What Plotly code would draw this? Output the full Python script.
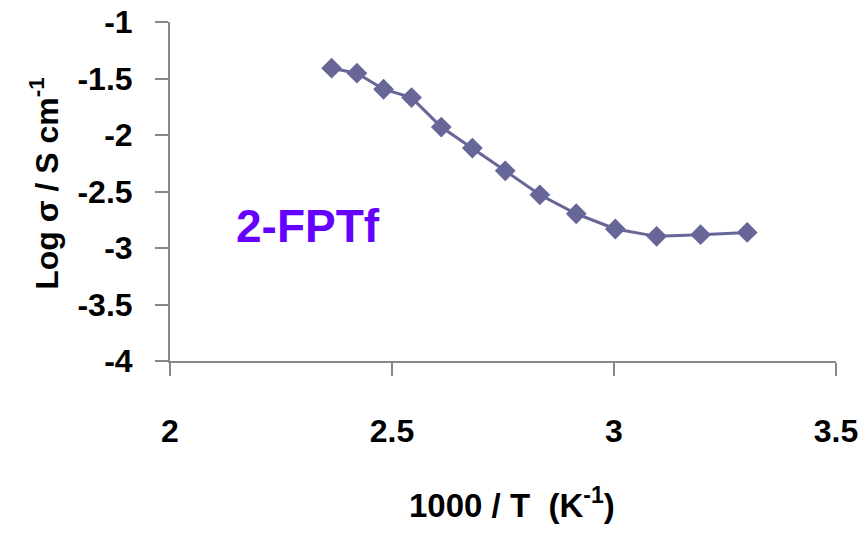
import plotly.graph_objects as go

# 1000/T (K^-1) and log conductivity (S cm^-1) for 2-FPTf
inv_temp = [2.364, 2.421, 2.481, 2.544, 2.611, 2.681, 2.755, 2.833, 2.915, 3.003, 3.096, 3.195, 3.300]
log_sigma = [-1.409, -1.453, -1.595, -1.669, -1.930, -2.116, -2.317, -2.529, -2.697, -2.832, -2.897, -2.882, -2.862]

x_ticks = [2, 2.5, 3, 3.5]
y_ticks = [-1, -1.5, -2, -2.5, -3, -3.5, -4]

label_font = "Liberation Sans, Arial, sans-serif"
series_color = "#666699"
axis_color = "#888888"

fig = go.Figure()
fig.add_trace(go.Scatter(
    x=inv_temp, y=log_sigma,
    mode="lines+markers",
    line=dict(color=series_color, width=3),
    marker=dict(symbol="diamond", size=16, color=series_color),
    showlegend=False,
))

fig.update_layout(
    width=865, height=533,
    margin=dict(l=170, r=29, t=22, b=171.5),
    paper_bgcolor="white", plot_bgcolor="white",
    font=dict(family=label_font, color="black"),
)

fig.update_xaxes(
    range=[2, 3.5], tickvals=x_ticks, ticktext=[f"<b>{v:g}</b>" for v in x_ticks],
    showline=True, linecolor=axis_color, linewidth=2,
    ticks="outside", ticklen=13, tickwidth=2, tickcolor=axis_color,
    showgrid=False, zeroline=False, automargin=False,
    tickfont=dict(size=32, family=label_font),
    ticklabelstandoff=28,
)
fig.update_yaxes(
    range=[-4, -1], tickvals=y_ticks, ticktext=[f"<b>{v:g}</b>" for v in y_ticks],
    showline=True, linecolor=axis_color, linewidth=2,
    ticks="outside", ticklen=13, tickwidth=2, tickcolor=axis_color,
    showgrid=False, zeroline=False, automargin=False,
    tickfont=dict(size=32, family=label_font),
    ticklabelstandoff=16,
)

fig.add_annotation(
    text="<b>1000 / T&nbsp;&nbsp;(K<sup>-1</sup>)</b>",
    xref="paper", yref="paper", x=(512 - 170) / 666, y=0, yshift=-142,
    xanchor="center", yanchor="middle", showarrow=False,
    font=dict(size=33, family=label_font),
)
fig.add_annotation(
    text="<b>Log σ / S cm<sup>-1</sup></b>",
    xref="paper", yref="paper", x=0, xshift=-126, y=(361.5 - 184) / 339.5,
    xanchor="center", yanchor="middle", textangle=-90, showarrow=False,
    font=dict(size=32, family=label_font),
)
fig.add_annotation(
    text="<b>2-FPTf</b>",
    xref="paper", yref="paper", x=(308 - 170) / 666, y=(361.5 - 226) / 339.5,
    xanchor="center", yanchor="middle", showarrow=False,
    font=dict(size=46, family=label_font, color="#6600FF"),
)

fig.write_html("out.html")
